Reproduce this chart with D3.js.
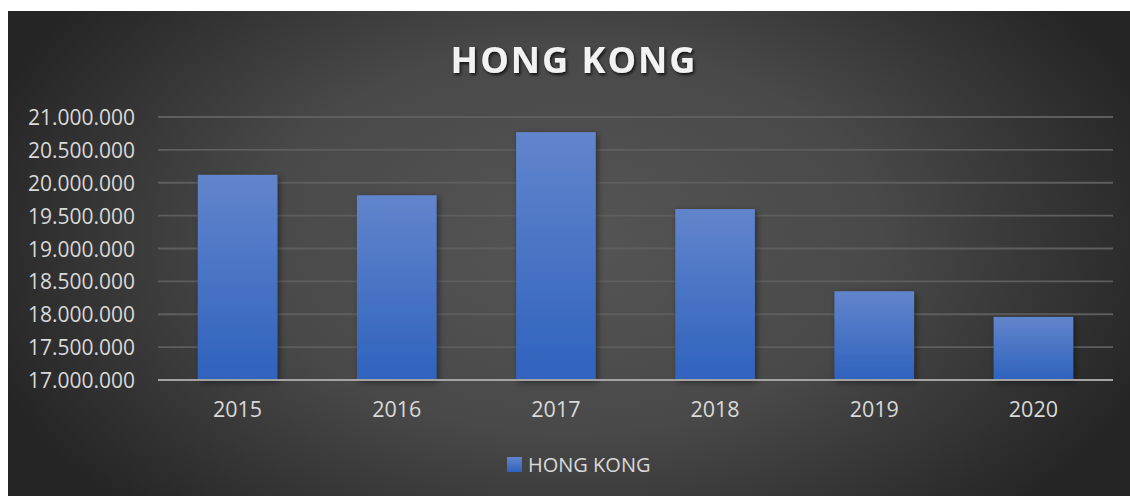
<!DOCTYPE html>
<html>
<head>
<meta charset="utf-8">
<script src="https://cdn.jsdelivr.net/npm/d3@7"></script>
<style>
  html, body { margin: 0; padding: 0; background: #ffffff; }
  svg { display: block; }
</style>
</head>
<body>
<svg id="chart" width="1130" height="496"></svg>
<script>
// Yearly totals for Hong Kong
const years = ["2015", "2016", "2017", "2018", "2019", "2020"];
const values = [20120000, 19810000, 20770000, 19600000, 18350000, 17960000];
const yTicks = [17000000, 17500000, 18000000, 18500000, 19000000, 19500000, 20000000, 20500000, 21000000];
const seriesName = "HONG KONG";
const titleText = "HONG KONG";

const svg = d3.select("#chart");
const W = 1130, H = 496;
const panel = { x: 8, y: 11, w: W - 8, h: H - 11 };
const plot = { left: 158, right: 1113, top: 117, bottom: 380 };

const defs = svg.append("defs");

// dark radial backdrop
const bg = defs.append("radialGradient").attr("id", "bgGrad")
  .attr("gradientUnits", "userSpaceOnUse")
  .attr("cx", 569).attr("cy", 240).attr("r", 620)
  .attr("gradientTransform", "translate(569,240) scale(1,0.62) translate(-569,-240)");
bg.append("stop").attr("offset", "0%").attr("stop-color", "#555555");
bg.append("stop").attr("offset", "50%").attr("stop-color", "#494949");
bg.append("stop").attr("offset", "100%").attr("stop-color", "#252525");

// bar fill
const barGrad = defs.append("linearGradient").attr("id", "barGrad")
  .attr("x1", 0).attr("y1", 0).attr("x2", 0).attr("y2", 1);
barGrad.append("stop").attr("offset", "0%").attr("stop-color", "#6285cc");
barGrad.append("stop").attr("offset", "100%").attr("stop-color", "#2f62bd");

const shadow = defs.append("filter").attr("id", "barShadow")
  .attr("x", "-20%").attr("y", "-10%").attr("width", "150%").attr("height", "130%");
shadow.append("feDropShadow").attr("dx", 2).attr("dy", 2).attr("stdDeviation", 3)
  .attr("flood-color", "#000").attr("flood-opacity", 0.45);

const tShadow = defs.append("filter").attr("id", "titleShadow")
  .attr("x", "-10%").attr("y", "-30%").attr("width", "120%").attr("height", "160%");
tShadow.append("feDropShadow").attr("dx", 1.5).attr("dy", 2).attr("stdDeviation", 1.5)
  .attr("flood-color", "#000").attr("flood-opacity", 0.75);

svg.append("rect")
  .attr("x", panel.x).attr("y", panel.y)
  .attr("width", panel.w).attr("height", panel.h)
  .attr("fill", "url(#bgGrad)");

const x = d3.scaleBand().domain(years).range([plot.left, plot.right]).paddingInner(0.5).paddingOuter(0.25);
const y = d3.scaleLinear().domain([17000000, 21000000]).range([plot.bottom, plot.top]);

const fmt = d => d3.format(",")(d).replace(/,/g, ".");

// gridlines
svg.append("g")
  .selectAll("line")
  .data(yTicks.filter(t => t !== 17000000))
  .join("line")
  .attr("x1", plot.left).attr("x2", plot.right)
  .attr("y1", d => y(d)).attr("y2", d => y(d))
  .attr("stroke", "#5e5e5e").attr("stroke-width", 1.8);

// y axis labels
const yAxis = svg.append("g")
  .attr("transform", `translate(${plot.left - 23},0)`)
  .call(d3.axisLeft(y).tickValues(yTicks).tickFormat(fmt).tickSize(0).tickPadding(0));
yAxis.select(".domain").remove();
yAxis.selectAll("text")
  .attr("fill", "#d9d9d9")
  .attr("font-family", "'Open Sans', sans-serif")
  .attr("font-size", 21)
  .attr("dy", "0.36em");

// bars
svg.append("g")
  .selectAll("rect")
  .data(years.map((yr, i) => ({ yr, v: values[i] })))
  .join("rect")
  .attr("x", d => x(d.yr))
  .attr("width", x.bandwidth())
  .attr("y", d => y(d.v))
  .attr("height", d => y(17000000) - y(d.v))
  .attr("fill", "url(#barGrad)")
  .attr("filter", "url(#barShadow)");

// category axis
svg.append("line")
  .attr("x1", plot.left).attr("x2", plot.right)
  .attr("y1", y(17000000)).attr("y2", y(17000000))
  .attr("stroke", "#a3a3a3").attr("stroke-width", 2.2);

const xAxis = svg.append("g")
  .attr("transform", `translate(0,${plot.bottom + 22})`)
  .call(d3.axisBottom(x).tickSize(0).tickPadding(0));
xAxis.select(".domain").remove();
xAxis.selectAll("text")
  .attr("fill", "#d9d9d9")
  .attr("font-family", "'Open Sans', sans-serif")
  .attr("font-size", 21.5)
  .attr("dy", "0.72em");

// title
svg.append("text")
  .attr("x", 574).attr("y", 73)
  .attr("text-anchor", "middle")
  .attr("fill", "#f2f2f2")
  .attr("font-family", "'Open Sans', sans-serif")
  .attr("font-weight", "bold")
  .attr("font-size", 36)
  .attr("letter-spacing", 2)
  .attr("filter", "url(#titleShadow)")
  .text(titleText);

// legend
const legend = svg.append("g").attr("transform", "translate(507,457)");
legend.append("rect").attr("width", 15).attr("height", 15).attr("fill", "url(#barGrad)");
legend.append("text")
  .attr("x", 21).attr("y", 15)
  .attr("fill", "#d9d9d9")
  .attr("font-family", "'Open Sans', sans-serif")
  .attr("font-size", 20)
  .text(seriesName);
</script>
</body>
</html>
